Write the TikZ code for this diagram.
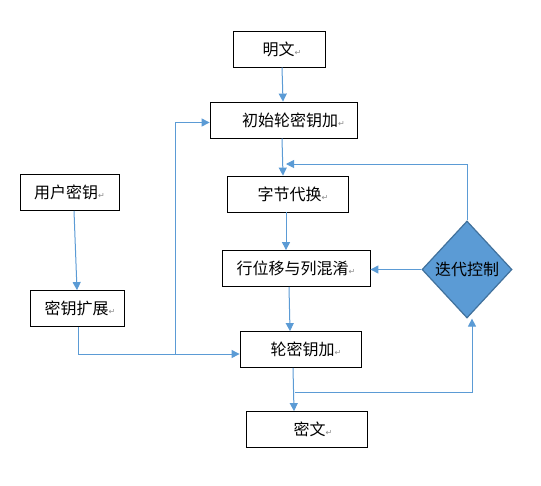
\documentclass[tikz,border=0pt]{standalone}
\usepackage{fontspec}
\newfontfamily\cjk{Noto Sans CJK SC}
\newfontfamily\symb{DejaVu Sans}
\usetikzlibrary{arrows.meta,shapes.geometric}
\definecolor{flowblue}{HTML}{5B9BD5}
\definecolor{ctrlborder}{HTML}{41719C}
\definecolor{retgray}{HTML}{8A8A8A}
\newcommand{\ret}{{\symb\color{retgray}\fontsize{8}{8}\selectfont ↵}}
\begin{document}
\begin{tikzpicture}[x=1pt,y=-1pt,font=\cjk\fontsize{16}{18}\selectfont]
  \tikzstyle{proc box}=[draw=black,line width=0.8pt,minimum height=36pt,inner sep=2pt]
  \tikzstyle{ctrl node}=[diamond,draw=ctrlborder,fill=flowblue,line width=1.2pt,
      minimum width=90pt,minimum height=97pt,inner sep=0pt]
  \tikzstyle{flow}=[draw=flowblue,line width=1pt,-{Triangle[length=8pt,width=8pt]}]

  \path[fill=white,use as bounding box] (0,0) rectangle (541,485);

  % main column
  \node(plain)[proc box,minimum width=92pt] at (279,49) {\hspace{6pt}明文\ret};
  \node(initadd)[proc box,minimum width=147pt] at (283.5,120) {\hspace{20pt}初始轮密钥加\ret};
  \node(subbytes)[proc box,minimum width=121pt] at (287.5,194) {\hspace{11pt}字节代换\ret};
  \node(shiftmix)[proc box,minimum width=148pt] at (296,268.5) {行位移与列混淆\ret};
  \node(roundadd)[proc box,minimum width=121pt] at (300.5,349.5) {\hspace{11pt}轮密钥加\ret};
  \node(cipher)[proc box,minimum width=121pt] at (306.5,429.5) {\hspace{13pt}密文\ret};

  % key column
  \node(userkey)[proc box,minimum width=99pt] at (69.5,192.5) {用户密钥\ret};
  \node(keyexp)[proc box,minimum width=94pt] at (77,308.5) {\hspace{6pt}密钥扩展\ret};

  % loop control
  \node(ctrl)[ctrl node] at (467,269.5) {迭代控制};

  \coordinate(branch) at (175,354);
  \coordinate(loopIn) at (286,164);
  \coordinate(outTap) at (295,392);

  \draw[flow] ([xshift=3pt]plain.south) -- ([xshift=-0.5pt]initadd.north);
  \draw[flow] ([xshift=-1.5pt]initadd.south) -- ([xshift=-4.5pt]subbytes.north);
  \draw[flow] ([xshift=-1.5pt]subbytes.south) -- ([xshift=-10pt]shiftmix.north);
  \draw[flow] ([xshift=-7pt]shiftmix.south) -- ([xshift=-10.5pt]roundadd.north);
  \draw[flow] ([xshift=-7.5pt]roundadd.south) -- ([xshift=-12.5pt]cipher.north);

  \draw[flow] ([xshift=4.5pt]userkey.south) -- (keyexp.north);
  \draw[flow] ([xshift=1pt]keyexp.south) |- ([yshift=-4.5pt]roundadd.west);
  \draw[flow] (branch) |- ([yshift=-2.5pt]initadd.west);

  \draw[flow] (ctrl.north) |- (loopIn);
  \draw[flow] (ctrl.west) -- (ctrl.west -| shiftmix.east);
  \draw[flow] (outTap) -| ([xshift=5pt]ctrl.south);
\end{tikzpicture}
\end{document}
